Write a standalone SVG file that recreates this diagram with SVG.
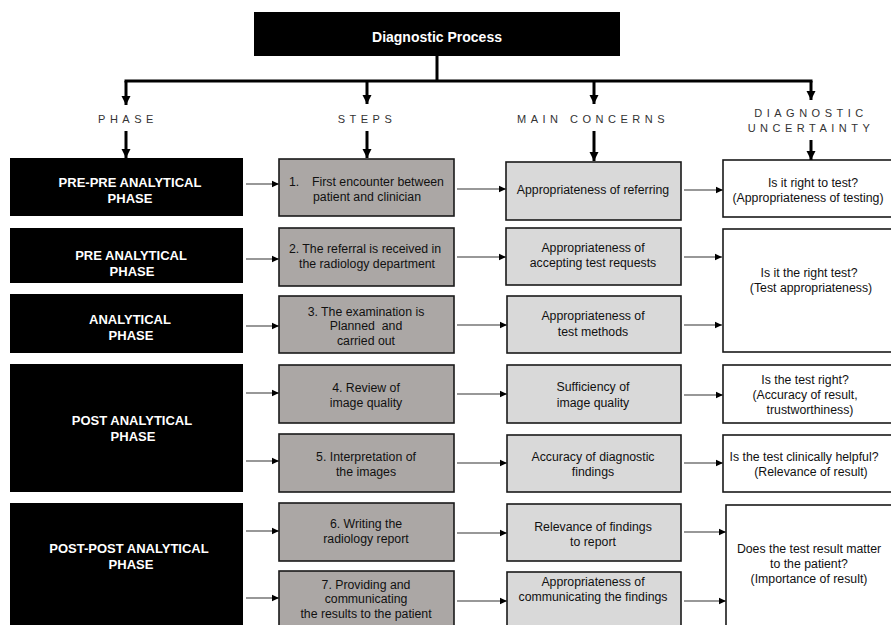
<svg xmlns="http://www.w3.org/2000/svg" width="891" height="625" viewBox="0 0 891 625">
<style>
  .phase { fill: #000; }
  .step { fill: #aba7a5; stroke: #1a1a1a; stroke-width: 1.6; }
  .concern { fill: #d9d9d9; stroke: #1a1a1a; stroke-width: 1.6; }
  .unc { fill: #fff; stroke: #1a1a1a; stroke-width: 1.6; }
  .pt { font-family: "Liberation Sans", Arial, sans-serif; font-weight: bold; font-size: 13px; fill: #fff; text-anchor: middle; }
  .title { font-size: 14px; }
  .bt { font-family: "Liberation Sans", Arial, sans-serif; font-size: 12.3px; fill: #111; text-anchor: middle; }
  .st { text-anchor: start; }
  .col { font-family: "Liberation Sans", Arial, sans-serif; font-size: 11px; fill: #333; letter-spacing: 4.5px; text-anchor: middle; }
  .thick { stroke: #000; stroke-width: 3; fill: none; }
  .thin { stroke: #333; stroke-width: 1.2; fill: none; marker-end: url(#ah); }
  .down { stroke: #000; stroke-width: 3; fill: none; marker-end: url(#bh); }
</style>
<defs>
  <marker id="ah" markerUnits="userSpaceOnUse" markerWidth="8" markerHeight="8" refX="7" refY="4" orient="auto">
    <path d="M0,0.8 L7,4 L0,7.2 Z" fill="#000"/>
  </marker>
  <marker id="bh" markerUnits="userSpaceOnUse" markerWidth="10" markerHeight="10" refX="9" refY="5" orient="auto">
    <path d="M0,0.5 L9,5 L0,9.5 Z" fill="#000"/>
  </marker>
</defs>

<g id="top">
  <rect x="254" y="12" width="366" height="44" fill="#000"/>
  <text x="437" y="42" class="pt title">Diagnostic Process</text>
</g>

<g id="column-labels">
  <text x="128" y="123" class="col">PHASE</text>
  <text x="367" y="123" class="col">STEPS</text>
  <text x="593" y="123" class="col">MAIN CONCERNS</text>
  <text x="811" y="117" class="col">DIAGNOSTIC</text>
  <text x="811" y="132" class="col">UNCERTAINTY</text>
</g>

<g id="phases">
  <g id="phase1"><rect class="phase" x="10" y="158" width="233" height="58"/>
    <text class="pt" x="130" y="187">PRE-PRE ANALYTICAL</text><text class="pt" x="130" y="203">PHASE</text></g>
  <g id="phase2"><rect class="phase" x="10" y="228" width="233" height="55"/>
    <text class="pt" x="131" y="260">PRE ANALYTICAL</text><text class="pt" x="132" y="276">PHASE</text></g>
  <g id="phase3"><rect class="phase" x="10" y="294" width="233" height="59"/>
    <text class="pt" x="130" y="324">ANALYTICAL</text><text class="pt" x="131" y="340">PHASE</text></g>
  <g id="phase4"><rect class="phase" x="10" y="364" width="233" height="128"/>
    <text class="pt" x="132" y="425">POST ANALYTICAL</text><text class="pt" x="133" y="441">PHASE</text></g>
  <g id="phase5"><rect class="phase" x="10" y="503" width="233" height="130"/>
    <text class="pt" x="129" y="553">POST-POST ANALYTICAL</text><text class="pt" x="131" y="569">PHASE</text></g>
</g>

<g id="steps">
  <g id="step1"><rect class="step" x="279" y="159" width="175" height="57"/>
    <text class="bt st" x="289" y="186">1.</text>
    <text class="bt st" x="312" y="186">First encounter between</text>
    <text class="bt st" x="313" y="201">patient and clinician</text></g>
  <g id="step2"><rect class="step" x="279" y="228" width="175" height="58"/>
    <text class="bt" x="365" y="253">2. The referral is received in</text>
    <text class="bt" x="367" y="268">the radiology department</text></g>
  <g id="step3"><rect class="step" x="279" y="296" width="175" height="57"/>
    <text class="bt" x="366" y="316">3. The examination is</text>
    <text class="bt" x="366" y="330" xml:space="preserve">Planned  and</text>
    <text class="bt" x="366" y="345">carried out</text></g>
  <g id="step4"><rect class="step" x="279" y="365" width="175" height="58"/>
    <text class="bt" x="366" y="392">4. Review of</text>
    <text class="bt" x="366" y="407">image quality</text></g>
  <g id="step5"><rect class="step" x="279" y="434" width="175" height="58"/>
    <text class="bt" x="366" y="461">5. Interpretation of</text>
    <text class="bt" x="366" y="476">the images</text></g>
  <g id="step6"><rect class="step" x="279" y="503" width="175" height="58"/>
    <text class="bt" x="366" y="528">6. Writing the</text>
    <text class="bt" x="366" y="543">radiology report</text></g>
  <g id="step7"><rect class="step" x="279" y="571" width="175" height="60"/>
    <text class="bt" x="366" y="589">7. Providing and</text>
    <text class="bt" x="366" y="603">communicating</text>
    <text class="bt" x="366" y="618">the results to the patient</text></g>
</g>

<g id="concerns">
  <g id="concern1"><rect class="concern" x="506" y="162" width="175" height="58"/>
    <text class="bt" x="593" y="194">Appropriateness of referring</text></g>
  <g id="concern2"><rect class="concern" x="506" y="228" width="175" height="57"/>
    <text class="bt" x="593" y="252">Appropriateness of</text>
    <text class="bt" x="593" y="267">accepting test requests</text></g>
  <g id="concern3"><rect class="concern" x="507" y="296" width="174" height="57"/>
    <text class="bt" x="593" y="320">Appropriateness of</text>
    <text class="bt" x="593" y="336">test methods</text></g>
  <g id="concern4"><rect class="concern" x="507" y="365" width="174" height="58"/>
    <text class="bt" x="593" y="391">Sufficiency of</text>
    <text class="bt" x="593" y="407">image quality</text></g>
  <g id="concern5"><rect class="concern" x="507" y="435" width="174" height="57"/>
    <text class="bt" x="593" y="461">Accuracy of diagnostic</text>
    <text class="bt" x="593" y="476">findings</text></g>
  <g id="concern6"><rect class="concern" x="507" y="504" width="174" height="57"/>
    <text class="bt" x="593" y="531">Relevance of findings</text>
    <text class="bt" x="593" y="546">to report</text></g>
  <g id="concern7"><rect class="concern" x="507" y="572" width="174" height="60"/>
    <text class="bt" x="593" y="586">Appropriateness of</text>
    <text class="bt" x="593" y="601">communicating the findings</text></g>
</g>

<g id="uncertainty">
  <g id="unc1"><rect class="unc" x="723" y="160" width="172" height="57"/>
    <text class="bt" x="813" y="187">Is it right to test?</text>
    <text class="bt" x="808" y="202">(Appropriateness of testing)</text></g>
  <g id="unc2"><rect class="unc" x="723" y="229" width="172" height="123"/>
    <text class="bt" x="809" y="277">Is it the right test?</text>
    <text class="bt" x="811" y="292">(Test appropriateness)</text></g>
  <g id="unc3"><rect class="unc" x="723" y="365" width="172" height="58"/>
    <text class="bt" x="805" y="384">Is the test right?</text>
    <text class="bt" x="805" y="399">(Accuracy of result,</text>
    <text class="bt" x="810" y="414">trustworthiness)</text></g>
  <g id="unc4"><rect class="unc" x="723" y="435" width="172" height="57"/>
    <text class="bt" x="804" y="461">Is the test clinically helpful?</text>
    <text class="bt" x="811" y="476">(Relevance of result)</text></g>
  <g id="unc5"><rect class="unc" x="726" y="505" width="169" height="126"/>
    <text class="bt" x="809" y="553">Does the test result matter</text>
    <text class="bt" x="809" y="568">to the patient?</text>
    <text class="bt" x="809" y="583">(Importance of result)</text></g>
</g>

<g id="connectors">
  <path class="thick" d="M437,56 V81 M124.5,81 H812.5"/>
  <path class="down" d="M126,81 V105"/>
  <path class="down" d="M367,81 V104"/>
  <path class="down" d="M594,81 V104"/>
  <path class="down" d="M811,81 V100"/>
  <path class="down" d="M126,131 V158"/>
  <path class="down" d="M367,131 V158"/>
  <path class="down" d="M594,131 V161"/>
  <path class="down" d="M811,140 V160"/>

  <path class="thin" d="M246,184 H279"/>
  <path class="thin" d="M457,189 H506"/>
  <path class="thin" d="M684,190 H723"/>

  <path class="thin" d="M246,259 H279"/>
  <path class="thin" d="M457,257 H506"/>
  <path class="thin" d="M684,257 H722"/>

  <path class="thin" d="M246,326 H279"/>
  <path class="thin" d="M457,325 H507"/>
  <path class="thin" d="M684,325 H722"/>

  <path class="thin" d="M246,393 H279"/>
  <path class="thin" d="M457,394 H507"/>
  <path class="thin" d="M684,395 H723"/>

  <path class="thin" d="M246,461 H279"/>
  <path class="thin" d="M457,463 H507"/>
  <path class="thin" d="M684,463 H723"/>

  <path class="thin" d="M246,531 H279"/>
  <path class="thin" d="M457,533 H507"/>
  <path class="thin" d="M684,532 H726"/>

  <path class="thin" d="M246,598 H279"/>
  <path class="thin" d="M457,601 H507"/>
  <path class="thin" d="M684,601 H726"/>
</g>
</svg>
